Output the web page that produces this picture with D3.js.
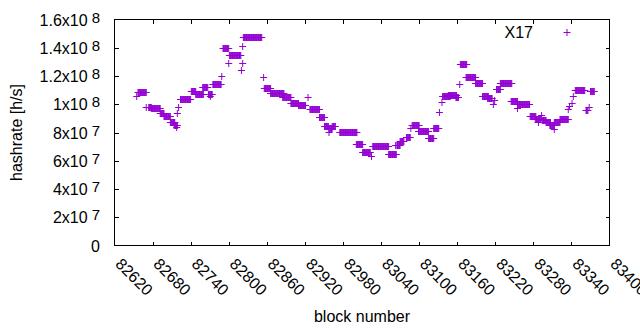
<!DOCTYPE html>
<html>
<head>
<meta charset="utf-8">
<script src="https://cdn.jsdelivr.net/npm/d3@7"></script>
<style>
  body { margin: 0; background: #fff; }
  svg { display: block; font-family: "Liberation Sans", Arial, sans-serif; }
</style>
</head>
<body>
<svg id="chart" width="640" height="330"></svg>
<script>
// hashrate per block, X17, stored as runs of equal value
const SERIES_NAME = 'X17';

const yTickValues = [0, 2e7, 4e7, 6e7, 8e7, 1e8, 1.2e8, 1.4e8, 1.6e8];
const yTickBase = ['0', '2x10', '4x10', '6x10', '8x10', '1x10', '1.2x10', '1.4x10', '1.6x10'];
const yTickExp = ['', '7', '7', '7', '7', '8', '8', '8', '8'];

const xTickValues = [82620, 82680, 82740, 82800, 82860, 82920, 82980,
                     83040, 83100, 83160, 83220, 83280, 83340, 83400];

// first block, last block, hashrate in MH/s
const runStart = [82655, 82657, 82670, 82674, 82678, 82692, 82698, 82708, 82714, 82718,
                  82719, 82721, 82724, 82741, 82748, 82759, 82768, 82771, 82775, 82789,
                  82791, 82800, 82801, 82820, 82822, 82822, 82823, 82855, 82856, 82866,
                  82885, 82898, 82910, 82925, 82928, 82943, 82951, 82958, 82958, 82963,
                  82975, 83001, 83011, 83025, 83027, 83052, 83063, 83065, 83070, 83080,
                  83087, 83089, 83099, 83115, 83123, 83132, 83136, 83137, 83146, 83158,
                  83164, 83165, 83174, 83189, 83200, 83208, 83217, 83219, 83222, 83228,
                  83245, 83255, 83255, 83275, 83283, 83288, 83293, 83294, 83300, 83306,
                  83313, 83313, 83322, 83335, 83337, 83341, 83343, 83346, 83363, 83368,
                  83370];
const runEnd   = [82655, 82670, 82670, 82678, 82692, 82698, 82708, 82715, 82719, 82718,
                  82719, 82721, 82740, 82748, 82760, 82767, 82774, 82771, 82788, 82789,
                  82800, 82800, 82819, 82820, 82822, 82822, 82852, 82855, 82866, 82887,
                  82898, 82910, 82921, 82925, 82943, 82951, 82957, 82958, 82963, 82968,
                  83002, 83011, 83023, 83025, 83052, 83064, 83063, 83070, 83076, 83086,
                  83087, 83100, 83115, 83123, 83131, 83132, 83136, 83149, 83159, 83162,
                  83164, 83175, 83189, 83200, 83209, 83215, 83217, 83219, 83228, 83246,
                  83255, 83255, 83274, 83284, 83292, 83288, 83293, 83300, 83307, 83313,
                  83313, 83322, 83335, 83335, 83337, 83341, 83343, 83361, 83366, 83368,
                  83376];
const runRate  = [106.0, 108.4, 97.8, 98.2, 97.1, 93.6, 91.5, 87.2, 85.1, 83.9,
                  93.6, 98.2, 103.5, 109.5, 107.2, 112.0, 107.4, 106.0, 114.1, 120.1,
                  139.5, 129.1, 134.6, 124.0, 129.1, 140.9, 147.3, 119.0, 111.2, 107.7,
                  104.9, 100.8, 99.8, 104.9, 96.4, 90.7, 84.4, 80.4, 83.2, 84.4,
                  80.1, 71.7, 66.5, 63.4, 70.3, 64.6, 71.0, 71.4, 73.8, 76.6,
                  83.2, 85.5, 80.8, 76.1, 83.2, 94.5, 101.6, 105.8, 106.3, 104.9,
                  114.3, 128.2, 119.0, 114.7, 105.6, 104.4, 100.1, 103.0, 110.6, 114.8,
                  102.3, 97.1, 99.9, 91.4, 89.8, 87.5, 92.4, 89.1, 87.2, 85.5,
                  82.5, 87.6, 89.8, 96.4, 98.5, 101.1, 105.8, 109.8, 95.7, 98.2,
                  109.3];

const margin = { left: 114.5, right: 609.5, top: 19.5, bottom: 245.5 };
const COLOR = '#9400d3';
const FONT = 16;
const TICK = 4;
const ARM = 3.5;

const svg = d3.select('#chart');

const x = d3.scaleLinear().domain([82620, 83400]).range([margin.left, margin.right]);
const y = d3.scaleLinear().domain([0, 1.6e8]).range([margin.bottom, margin.top]);

// one point per block
const points = [];
runStart.forEach((s, i) => {
    for (let b = s; b <= runEnd[i]; b++) points.push({ block: b, rate: runRate[i] * 1e6 });
});

// Ticks, mirrored on all sides
const ticks = svg.append('g').attr('stroke', '#000').attr('shape-rendering', 'crispEdges');
xTickValues.slice(1, -1).forEach(v => {
    const px = Math.round(x(v)) + 0.5;
    ticks.append('line').attr('x1', px).attr('x2', px)
        .attr('y1', margin.bottom).attr('y2', margin.bottom - TICK);
    ticks.append('line').attr('x1', px).attr('x2', px)
        .attr('y1', margin.top).attr('y2', margin.top + TICK);
});
yTickValues.slice(1, -1).forEach(v => {
    const py = Math.round(y(v)) + 0.5;
    ticks.append('line').attr('y1', py).attr('y2', py)
        .attr('x1', margin.left).attr('x2', margin.left + TICK);
    ticks.append('line').attr('y1', py).attr('y2', py)
        .attr('x1', margin.right).attr('x2', margin.right - TICK);
});

// Border
svg.append('rect')
    .attr('x', margin.left).attr('y', margin.top)
    .attr('width', margin.right - margin.left).attr('height', margin.bottom - margin.top)
    .attr('fill', 'none').attr('stroke', '#000').attr('shape-rendering', 'crispEdges');

// Y tick labels with exponent
yTickValues.forEach((v, i) => {
    const t = svg.append('text')
        .attr('x', 100).attr('y', y(v) + 6)
        .attr('text-anchor', 'end').attr('font-size', FONT).attr('fill', '#000');
    t.append('tspan').text(yTickBase[i]);
    if (yTickExp[i]) {
        t.append('tspan').attr('dx', 4).attr('dy', -3).attr('font-size', 15).text(yTickExp[i]);
    }
});

// X tick labels, rotated
xTickValues.forEach(v => {
    svg.append('text')
        .attr('transform', `translate(${x(v)},265) rotate(45)`)
        .attr('font-size', FONT).attr('fill', '#000')
        .text(v);
});

// Axis titles
svg.append('text')
    .attr('transform', `translate(22,${(margin.top + margin.bottom) / 2}) rotate(-90)`)
    .attr('text-anchor', 'middle').attr('font-size', FONT).attr('fill', '#000')
    .text('hashrate [h/s]');

svg.append('text')
    .attr('x', (margin.left + margin.right) / 2).attr('y', 322)
    .attr('text-anchor', 'middle').attr('font-size', FONT).attr('fill', '#000')
    .text('block number');

// Points
const plus = (px, py) => `M${px - ARM},${py}H${px + ARM}M${px},${py - ARM}V${py + ARM}`;

svg.append('g')
    .selectAll('path')
    .data(points)
    .join('path')
    .attr('d', d => plus(x(d.block), Math.round(y(d.rate)) + 0.5))
    .attr('stroke', COLOR)
    .attr('stroke-width', 1)
    .attr('fill', 'none');

// Legend
svg.append('text')
    .attr('x', 533).attr('y', 37.5)
    .attr('text-anchor', 'end').attr('font-size', FONT).attr('fill', '#000')
    .text(SERIES_NAME);
svg.append('path')
    .attr('d', plus(567, 32.5))
    .attr('stroke', COLOR).attr('stroke-width', 1).attr('fill', 'none');
</script>
</body>
</html>
